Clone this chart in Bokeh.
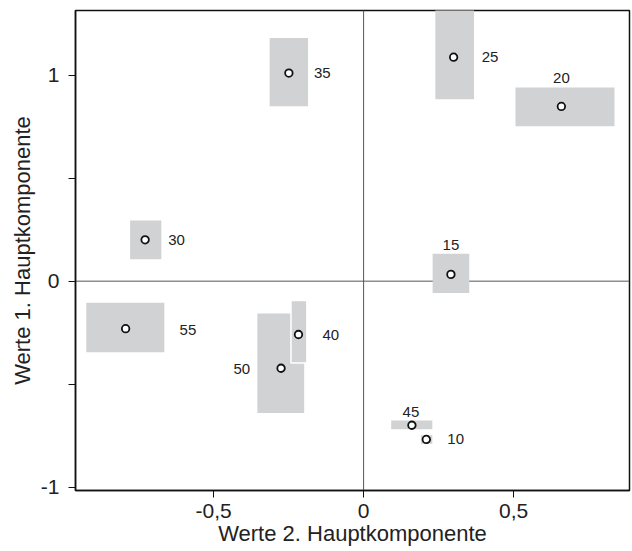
from bokeh.plotting import figure
from bokeh.models import Range1d, FixedTicker, Span, ColumnDataSource
from bokeh.embed import file_html
from bokeh.resources import INLINE
from bokeh.core.properties import value

# --- data ---
labels = ["50", "40", "35", "30", "25", "20", "15", "55", "45", "10"]
pc2 = [-0.275, -0.217, -0.249, -0.728, 0.300, 0.659, 0.291, -0.793, 0.161, 0.209]
pc1 = [-0.423, -0.259, 1.011, 0.201, 1.088, 0.849, 0.033, -0.231, -0.700, -0.769]
pc2_lo = [-0.354, -0.242, -0.313, -0.778, 0.239, 0.506, 0.230, -0.924, 0.092, 0.191]
pc2_hi = [-0.198, -0.189, -0.185, -0.674, 0.368, 0.836, 0.352, -0.664, 0.229, 0.229]
pc1_lo = [-0.641, -0.397, 0.850, 0.107, 0.884, 0.753, -0.058, -0.345, -0.719, -0.790]
pc1_hi = [-0.157, -0.094, 1.181, 0.295, 1.340, 0.941, 0.133, -0.105, -0.677, -0.748]

x_ticks = [-0.5, 0, 0.5]
x_tick_labels = ["-0,5", "0", "0,5"]
y_ticks = [-1, -0.5, 0, 0.5, 1]
y_tick_labels = ["-1", "", "0", "", "1"]

# label placement (styling)
label_pos = ["left", "right", "right", "right", "right", "above", "above", "right", "above", "right"]
label_dx = [-31, 24, 25, 23, 28, 0, 0, 54, -1, 21]
label_dy = [1, 1, 0, 0, 0, -28, -29, 1, -13, 0]

FONT = "Liberation Sans"
TXT = "#222222"

p = figure(frame_width=554, frame_height=480, output_backend="svg",
           toolbar_location=None,
           x_range=Range1d(-0.96, 0.886), y_range=Range1d(-1.017, 1.315),
           min_border_left=75, min_border_top=10, min_border_right=3,
           min_border_bottom=61)
p.grid.visible = False
p.background_fill_color = "white"
p.outline_line_color = "#111111"
p.outline_line_width = 1.5

p.add_layout(Span(location=0, dimension="height", line_color="#555555",
                  line_width=1, level="underlay"))
p.add_layout(Span(location=0, dimension="width", line_color="#555555",
                  line_width=1, level="underlay"))

src = ColumnDataSource(dict(x=pc2, y=pc1, l=pc2_lo, r=pc2_hi, b=pc1_lo, t=pc1_hi,
                            lab=labels))
src.data["oc"] = ["#ffffff" if lab == "40" else None for lab in labels]
p.quad(left="l", right="r", bottom="b", top="t", source=src,
       fill_color="#d1d2d4", line_color="oc", line_width=1.5)

p.scatter(x="x", y="y", source=src, size=7.5, marker="circle",
          fill_color="white", line_color="#111111", line_width=1.8)

align_map = {"left": "right", "right": "left", "above": "center"}
src.data["align"] = [align_map[a] for a in label_pos]
src.data["dx"] = label_dx
src.data["dy"] = label_dy
p.text(x="x", y="y", text="lab", source=src, x_offset="dx", y_offset="dy",
       text_align="align", text_baseline="middle", text_font=value(FONT),
       text_font_size="15px", text_color=TXT)

p.xaxis.ticker = FixedTicker(ticks=x_ticks)
p.xaxis.major_label_overrides = dict(zip(x_ticks, x_tick_labels))
p.yaxis.ticker = FixedTicker(ticks=y_ticks)
p.yaxis.major_label_overrides = dict(zip(y_ticks, y_tick_labels))

for ax in (p.xaxis[0], p.yaxis[0]):
    ax.axis_line_color = "#111111"
    ax.axis_line_width = 1.5
    ax.major_tick_line_color = "#111111"
    ax.major_tick_line_width = 1
    ax.major_tick_out = 7
    ax.major_tick_in = 0
    ax.minor_tick_line_color = None
    ax.major_label_text_font = FONT
    ax.major_label_text_font_size = "21px"
    ax.major_label_text_color = TXT
    ax.axis_label_text_font = FONT
    ax.axis_label_text_font_size = "22px"
    ax.axis_label_text_font_style = "normal"
    ax.axis_label_text_color = TXT

p.xaxis.major_label_standoff = 6
p.yaxis.major_label_standoff = 9
p.xaxis.axis_label = "Werte 2. Hauptkomponente"
p.yaxis.axis_label = "Werte 1. Hauptkomponente"
p.xaxis.axis_label_standoff = 0
p.yaxis.axis_label_standoff = 3
p.yaxis.major_label_orientation = "horizontal"

open("out.html", "w").write(file_html(p, INLINE))
